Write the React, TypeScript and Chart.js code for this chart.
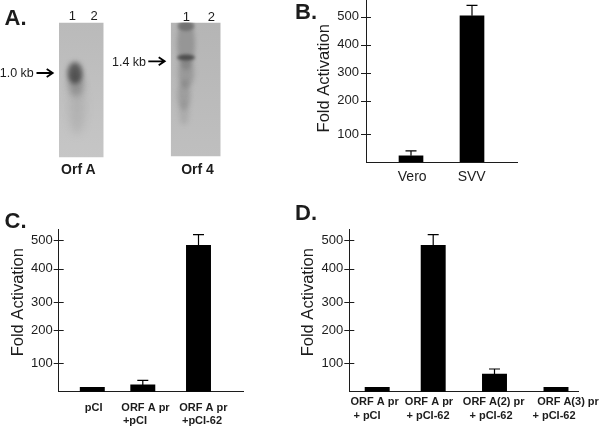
import React, { useEffect, useRef } from "react";
import { Chart, BarController, BarElement, LinearScale, CategoryScale } from "chart.js";

// ---------- data ----------
const yTickValues = [100, 200, 300, 400, 500];

const bCategories = [["Vero"], ["SVV"]];
const bValues = [22, 503];
const bErrorTops = [40, 541];

const cCategories = [["pCI"], ["ORF A pr", "+pCI"], ["ORF A pr", "+pCI-62"]];
const cValues = [15, 24, 482];
const cErrorTops: (number | null)[] = [null, 40, 518];

const dCategories = [
  ["ORF A pr", "+ pCI"],
  ["ORF A pr", "+ pCI-62"],
  ["ORF A(2) pr", "+ pCI-62"],
  ["ORF A(3) pr", "+ pCI-62"],
];
const dValues = [15, 482, 62, 15];
const dErrorTops: (number | null)[] = [null, 518, 80, null];

const yTitle = "Fold Activation";

// ---------- the hand-drawn axes have uneven tick spacing ----------
class HandTickScale extends LinearScale {
  static id = "handTick";
  getPadding() {
    return { left: 0, top: 0, right: 0, bottom: 0 };
  }
  _computeLabelArea() {
    return undefined;
  }
  getPixelForValue(value: number) {
    const vs = (this.options as any).anchorValues;
    const hs = (this.options as any).anchorHeights;
    let h = hs[hs.length - 1];
    for (let i = 1; i < vs.length; i++) {
      if (value <= vs[i]) {
        h = hs[i - 1] + ((value - vs[i - 1]) / (vs[i] - vs[i - 1])) * (hs[i] - hs[i - 1]);
        break;
      }
    }
    return this.bottom - h;
  }
}

class SlotCategoryScale extends CategoryScale {
  static id = "slotCategory";
  getPadding() {
    return { left: 0, top: 0, right: 0, bottom: 0 };
  }
  getPixelForValue(value: any) {
    const idx = typeof value === "number" ? value : (this as any).parse(value);
    return this.left + (this.options as any).slots[idx];
  }
}

Chart.register(BarController, BarElement, LinearScale, CategoryScale, HandTickScale, SlotCategoryScale);

const ink = "#1c1c1c";
const sans = '"Liberation Sans", Arial, sans-serif';

const panelMarks = {
  id: "panelMarks",
  afterDatasetsDraw(chart: any, _a: any, o: any) {
    const { ctx, scales } = chart;
    const x = scales.x;
    const y = scales.y;
    ctx.save();
    // cross ticks
    ctx.strokeStyle = ink;
    ctx.lineWidth = 1;
    y.ticks.forEach((_t: any, i: number) => {
      const p = Math.round(y.getPixelForTick(i)) + 0.5;
      ctx.beginPath();
      ctx.moveTo(y.right - 5, p);
      ctx.lineTo(y.right + 5, p);
      ctx.stroke();
    });
    // error bars
    ctx.strokeStyle = "#000";
    ctx.lineWidth = 1.2;
    o.errorTops.forEach((top: number | null, i: number) => {
      if (top === null) return;
      const cx = x.getPixelForValue(i);
      const p0 = y.getPixelForValue(o.values[i]);
      const p1 = y.getPixelForValue(top);
      ctx.beginPath();
      ctx.moveTo(cx, p0);
      ctx.lineTo(cx, p1);
      ctx.moveTo(cx - 5.5, p1);
      ctx.lineTo(cx + 5.5, p1);
      ctx.stroke();
    });
    // category labels
    ctx.fillStyle = ink;
    ctx.textAlign = "center";
    ctx.textBaseline = "middle";
    ctx.font = o.labelFont;
    x.ticks.forEach((t: any, i: number) => {
      const lines: string[] = Array.isArray(t.label) ? t.label : [t.label];
      lines.forEach((line, l) => {
        ctx.fillText(line, x.getPixelForTick(i) + o.labelShifts[l][i], o.labelRows[l]);
      });
    });
    // axis title
    ctx.font = `16.5px ${sans}`;
    ctx.translate(o.titleX, o.titleY);
    ctx.rotate(-Math.PI / 2);
    ctx.fillText(yTitle, 0, 0);
    ctx.restore();
  },
};

type Panel = {
  categories: string[][];
  values: number[];
  errorTops: (number | null)[];
  axisLeft: number;
  axisRight: number;
  axisTop: number;
  baseline: number;
  slots: number[];
  barWidth: number;
  anchorValues: number[];
  anchorHeights: number[];
  labelFont: string;
  labelShifts: number[][];
  labelRows: number[];
  titleX: number;
  titleY: number;
  tickPad: number;
};

const cdAnchorValues = [0, 100, 200, 300, 400, 500, 535];
const cdAnchorHeights = [0, 28.4, 61.7, 89.7, 123, 151.4, 162.4];

const panels: Panel[] = [
  {
    categories: bCategories,
    values: bValues,
    errorTops: bErrorTops,
    axisLeft: 366,
    axisRight: 517,
    axisTop: 0,
    baseline: 162,
    slots: [45, 106],
    barWidth: 24,
    anchorValues: [0, 100, 200, 300, 400, 500, 560],
    anchorHeights: [0, 28, 61.5, 89.3, 117.3, 145.3, 162],
    labelFont: `14px ${sans}`,
    labelShifts: [[1.2, -0.3]],
    labelRows: [176.7],
    titleX: 324.5,
    titleY: 78.3,
    tickPad: 7,
  },
  {
    categories: cCategories,
    values: cValues,
    errorTops: cErrorTops,
    axisLeft: 58.7,
    axisRight: 243.3,
    axisTop: 229.3,
    baseline: 391.7,
    slots: [33.6, 84.1, 139.8],
    barWidth: 24.3,
    anchorValues: cdAnchorValues,
    anchorHeights: cdAnchorHeights,
    labelFont: `bold 11px ${sans}`,
    labelShifts: [
      [1.4, 2.7, 4.8],
      [0, -7.8, 3.5],
    ],
    labelRows: [407.7, 421.3],
    titleX: 18.5,
    titleY: 302.2,
    tickPad: 6,
  },
  {
    categories: dCategories,
    values: dValues,
    errorTops: dErrorTops,
    axisLeft: 349.3,
    axisRight: 578.3,
    axisTop: 229.3,
    baseline: 391.7,
    slots: [27.9, 83.9, 145.2, 206.7],
    barWidth: 24.3,
    anchorValues: cdAnchorValues,
    anchorHeights: cdAnchorHeights,
    labelFont: `bold 11px ${sans}`,
    labelShifts: [
      [-2.5, -4.2, -0.8, 12],
      [-10.2, -5.2, -3.5, -2],
    ],
    labelRows: [402.3, 415.7],
    titleX: 308.5,
    titleY: 302.2,
    tickPad: 6,
  },
];

function BarPanel({ p }: { p: Panel }) {
  const ref = useRef<HTMLCanvasElement>(null);
  useEffect(() => {
    const chart = new Chart(ref.current as HTMLCanvasElement, {
      type: "bar",
      data: {
        labels: p.categories as any,
        datasets: [
          {
            data: p.values,
            backgroundColor: "#000",
            barThickness: p.barWidth,
            borderWidth: 0,
          },
        ],
      },
      options: {
        animation: false,
        responsive: false,
        devicePixelRatio: 1,
        layout: {
          padding: {
            left: p.axisLeft,
            right: 600 - p.axisRight,
            top: p.axisTop,
            bottom: 427 - p.baseline,
          },
        },
        plugins: {
          legend: { display: false },
          title: { display: false },
          tooltip: { enabled: false },
          panelMarks: {
            values: p.values,
            errorTops: p.errorTops,
            labelFont: p.labelFont,
            labelShifts: p.labelShifts,
            labelRows: p.labelRows,
            titleX: p.titleX,
            titleY: p.titleY,
          },
        },
        scales: {
          x: {
            type: "slotCategory",
            offset: false,
            slots: p.slots,
            grid: { display: false, drawTicks: false },
            border: { display: true, color: ink, width: 1 },
            ticks: { display: false, autoSkip: false, maxRotation: 0 },
            afterFit: (s: any) => {
              s.height = 0;
            },
          },
          y: {
            type: "handTick",
            min: 0,
            max: p.anchorValues[p.anchorValues.length - 1],
            anchorValues: p.anchorValues,
            anchorHeights: p.anchorHeights,
            grid: { display: false, drawTicks: false },
            border: { display: true, color: ink, width: 1 },
            afterBuildTicks: (s: any) => {
              s.ticks = yTickValues.map((value) => ({ value }));
            },
            ticks: {
              color: ink,
              padding: p.tickPad,
              font: { family: sans, size: 13 },
              callback: (v: any) => String(v),
            },
            afterFit: (s: any) => {
              s.width = 0;
            },
          },
        } as any,
      } as any,
      plugins: [panelMarks],
    } as any);
    return () => chart.destroy();
  }, [p]);
  return <canvas ref={ref} width={600} height={427} style={{ position: "absolute", left: 0, top: 0 }} />;
}

// ---------- panel A: the two blots are photographs, painted as soft blobs ----------
type Blob = [number, number, number, number, string, number];

function paintBlot(
  ctx: CanvasRenderingContext2D,
  x: number,
  y: number,
  w: number,
  h: number,
  top: string,
  bottom: string,
  blobs: Blob[]
) {
  ctx.save();
  ctx.beginPath();
  ctx.rect(x, y, w, h);
  ctx.clip();
  const g = ctx.createLinearGradient(0, y, 0, y + h);
  g.addColorStop(0, top);
  g.addColorStop(1, bottom);
  ctx.fillStyle = g;
  ctx.fillRect(x, y, w, h);
  blobs.forEach(([cx, cy, rx, ry, color, blur]) => {
    ctx.filter = `blur(${blur}px)`;
    ctx.fillStyle = color;
    ctx.beginPath();
    ctx.ellipse(cx, cy, rx, ry, 0, 0, Math.PI * 2);
    ctx.fill();
  });
  ctx.restore();
}

function arrow(ctx: CanvasRenderingContext2D, x0: number, x1: number, y: number) {
  ctx.strokeStyle = "#000";
  ctx.lineWidth = 1.8;
  ctx.beginPath();
  ctx.moveTo(x0, y);
  ctx.lineTo(x1 - 1, y);
  ctx.moveTo(x1 - 6, y - 4);
  ctx.lineTo(x1, y);
  ctx.lineTo(x1 - 6, y + 4);
  ctx.stroke();
}

function Blots() {
  const ref = useRef<HTMLCanvasElement>(null);
  useEffect(() => {
    const ctx = (ref.current as HTMLCanvasElement).getContext("2d") as CanvasRenderingContext2D;
    ctx.clearRect(0, 0, 600, 427);
    paintBlot(ctx, 59, 22.5, 44.7, 135, "#bababa", "#c6c6c6", [
      [77, 108, 8, 26, "rgba(125,125,125,0.22)", 4],
      [76, 84, 8, 12, "rgba(95,95,95,0.4)", 3],
      [75, 73, 7.5, 11, "rgba(60,60,60,0.72)", 2.5],
      [75, 75, 4.5, 7, "rgba(70,70,70,0.3)", 2],
    ]);
    paintBlot(ctx, 170.7, 22.5, 50, 134, "#b5b5b5", "#bfbfbf", [
      [186, 44, 9, 26, "rgba(110,110,110,0.45)", 2],
      [186, 26, 8.5, 5, "rgba(85,85,85,0.55)", 1.5],
      [186, 73, 8, 15, "rgba(110,110,110,0.42)", 2.5],
      [184, 95, 6.5, 15, "rgba(110,110,110,0.38)", 2.5],
      [184, 113, 5, 12, "rgba(130,130,130,0.28)", 2.5],
      [186, 57.5, 9, 3, "rgba(55,55,55,0.75)", 1.4],
    ]);
    arrow(ctx, 36.5, 52.7, 73);
    arrow(ctx, 148.3, 164.7, 61.3);
  }, []);
  return <canvas ref={ref} width={600} height={427} style={{ position: "absolute", left: 0, top: 0 }} />;
}

const words: { t: string; x: number; y: number; s: number; b?: boolean }[] = [
  { t: "A.", x: 15.5, y: 17.5, s: 22, b: true },
  { t: "B.", x: 306, y: 12, s: 22, b: true },
  { t: "C.", x: 15.5, y: 221, s: 22, b: true },
  { t: "D.", x: 306, y: 213, s: 22, b: true },
  { t: "1", x: 72.3, y: 15.3, s: 13 },
  { t: "2", x: 94, y: 15.3, s: 13 },
  { t: "1", x: 186.3, y: 16, s: 13 },
  { t: "2", x: 211.3, y: 16, s: 13 },
  { t: "1.0 kb", x: 16.8, y: 73.3, s: 12.5 },
  { t: "1.4 kb", x: 129, y: 61.5, s: 12.5 },
  { t: "Orf A", x: 78.3, y: 169.3, s: 14, b: true },
  { t: "Orf 4", x: 197.5, y: 169.3, s: 14, b: true },
];

export default function App() {
  useEffect(() => {
    document.body.style.margin = "0";
    document.body.style.background = "#fff";
  }, []);
  return (
    <div style={{ position: "absolute", left: 0, top: 0, width: 600, height: 427, overflow: "hidden", background: "#fff", filter: "blur(0.35px)" }}>
      <Blots />
      {panels.map((p, i) => (
        <BarPanel key={i} p={p} />
      ))}
      {words.map((w, i) => (
        <div
          key={i}
          style={{
            position: "absolute",
            left: w.x,
            top: w.y,
            transform: "translate(-50%,-50%)",
            font: `${w.b ? "bold " : ""}${w.s}px ${sans}`,
            color: ink,
            whiteSpace: "nowrap",
            lineHeight: 1,
          }}
        >
          {w.t}
        </div>
      ))}
    </div>
  );
}
